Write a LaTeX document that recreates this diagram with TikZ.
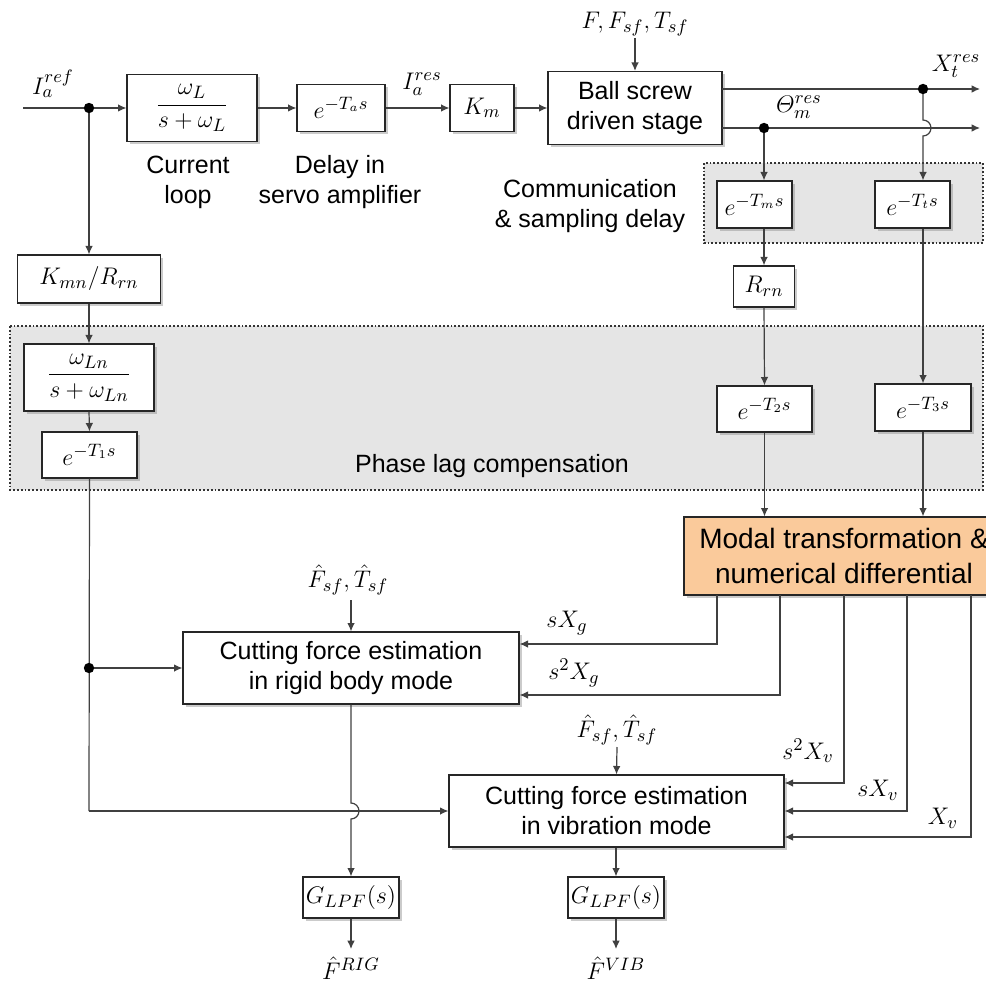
\documentclass[tikz,border=0pt]{standalone}
\usepackage{amsmath}
\usepackage[no-math]{fontspec}
\setmainfont{Liberation Sans}
\usetikzlibrary{arrows.meta,shadows,calc}

\definecolor{modalfill}{RGB}{250,202,155}
\definecolor{regionfill}{RGB}{229,229,229}

\begin{document}
\begin{tikzpicture}[x=0.5pt,y=-0.5pt,
  every node/.style={font=\fontsize{12.5}{15}\selectfont},
  blk/.style={draw=black!85, line width=0.6pt, fill=white, inner sep=0pt,
    align=center, drop shadow={shadow xshift=1.3pt, shadow yshift=-1.3pt, fill=black!45, opacity=0.45}},
  region/.style={draw=black!80, fill=regionfill, line width=0.9pt, densely dotted},
  ln/.style={draw=black!75, line width=0.6pt},
  arr/.style={ln, -{Latex[length=4.2pt,width=3.8pt]}},
  jdot/.style={fill=black},
  lbl/.style={inner sep=1pt, align=center}]
\useasboundingbox (0,0) rectangle (985,988);

% shaded groups
\path[region] (704,163) rectangle (983,243);
\path[region] (10,326) rectangle (983,490);

% ---- forward path ----
\node[blk, minimum width=65pt, minimum height=33.5pt] (cl) at (192,108) {$\displaystyle\frac{\omega_L}{s+\omega_L}$};
\node[blk, minimum width=44pt, minimum height=23.5pt] (da) at (341,108) {$e^{-T_a s}$};
\node[blk, minimum width=32pt, minimum height=23.5pt] (km) at (482,108) {$K_m$};
\node[blk, minimum width=87pt, minimum height=36.5pt] (bs) at (635,108) {Ball screw\\driven stage};

\node[lbl] (lref) at (53,84) {$I_a^{ref}$};
\node[lbl] (lres) at (422,84) {$I_a^{res}$};
\node[lbl] (ldist) at (635,24) {$F, F_{sf}, T_{sf}$};
\node[lbl] (lxt) at (956,66) {$X_t^{res}$};
\node[lbl] (lth) at (799,107) {$\varTheta_m^{res}$};

\node[lbl] (tcl) at (188,182) {Current\\loop};
\node[lbl] (tda) at (340,182) {Delay in\\servo amplifier};
\node[lbl] (tcom) at (590,206) {Communication\\\& sampling delay};
\node[lbl] (tpl) at (492,466) {Phase lag compensation};

% ---- delay / sensor blocks ----
\node[blk, minimum width=37.5pt, minimum height=23.5pt] (tm) at (754.5,204.5) {$e^{-T_m s}$};
\node[blk, minimum width=37.5pt, minimum height=23.5pt] (tt) at (912.5,204.5) {$e^{-T_t s}$};
\node[blk, minimum width=30.5pt, minimum height=20.5pt] (rrn) at (764,286.5) {$R_{rn}$};
\node[blk, minimum width=47.5pt, minimum height=23pt] (t2) at (764.5,409) {$e^{-T_2 s}$};
\node[blk, minimum width=48pt, minimum height=23.5pt] (t3) at (923,407.5) {$e^{-T_3 s}$};

\node[blk, minimum width=71.5pt, minimum height=24pt] (kmn) at (89,279) {$K_{mn}/R_{rn}$};
\node[blk, minimum width=65pt, minimum height=33.5pt] (wln) at (89,377.5) {$\displaystyle\frac{\omega_{Ln}}{s+\omega_{Ln}}$};
\node[blk, minimum width=47.5pt, minimum height=23pt] (t1) at (89.5,455) {$e^{-T_1 s}$};

\node[blk, fill=modalfill, minimum width=160pt, minimum height=39pt,
  font=\fontsize{14}{17.5}\selectfont] (modal) at (844,556) {Modal transformation \&\\numerical differential};

% ---- estimators ----
\node[blk, minimum width=168pt, minimum height=36pt] (rig) at (351,668) {Cutting force estimation\\in rigid body mode};
\node[blk, minimum width=167.5pt, minimum height=36pt] (vib) at (616.5,811) {Cutting force estimation\\in vibration mode};
\node[blk, minimum width=48pt, minimum height=20.5pt] (g1) at (351,897.5) {$G_{LPF}(s)$};
\node[blk, minimum width=48pt, minimum height=20.5pt] (g2) at (616,897.5) {$G_{LPF}(s)$};

\node[lbl] (lfr) at (348,580) {$\hat{F}_{sf},\hat{T}_{sf}$};
\node[lbl] (lfv) at (617,730) {$\hat{F}_{sf},\hat{T}_{sf}$};
\node[lbl] (lsxg) at (567,623) {$sX_g$};
\node[lbl] (ls2xg) at (574,673) {$s^2X_g$};
\node[lbl] (ls2xv) at (808,751) {$s^2X_v$};
\node[lbl] (lsxv) at (878,790) {$sX_v$};
\node[lbl] (lxv) at (943,818) {$X_v$};
\node[lbl] (lrig) at (351,968) {$\hat{F}^{RIG}$};
\node[lbl] (lvib) at (616,968) {$\hat{F}^{VIB}$};

% ---- coordinates for free ends and junctions ----
\coordinate (in) at (23,108);
\coordinate (j1) at (89,108);
\coordinate (j2) at (89,668);
\coordinate (j3) at (89,811);
\coordinate (dtop) at (635,38);
\coordinate (bsu) at (722,89);
\coordinate (bsl) at (722,128);
\coordinate (xd) at (923,89);
\coordinate (thd) at (764,128);
\coordinate (xend) at (980,89);
\coordinate (thend) at (980,128);
\coordinate (frtop) at (351,600);
\coordinate (fvtop) at (617,747);
\coordinate (m1) at (717,595);
\coordinate (m2) at (780,595);
\coordinate (m3) at (844,595);
\coordinate (m4) at (907,595);
\coordinate (m5) at (971,595);
\coordinate (orig) at (351,949);
\coordinate (ovib) at (616,949);

% ---- connectors: top row ----
\draw[ln] (in) -- (j1);
\draw[arr] (j1) -- (cl.west);
\draw[arr] (cl.east) -- (da.west);
\draw[arr] (da.east) -- (km.west);
\draw[arr] (km.east) -- (bs.west);
\draw[arr] (dtop) -- (bs.north);
\draw[arr] (bsu) -- (xend);
\draw[arr] (bsl) -- (thend);

% sensor branches
\draw[arr] (thd) -- (thd |- tm.north);
\draw[arr] (xd) -- ($(xd)+(0,31)$) arc[start angle=90, end angle=-90, radius=4pt] -- (xd |- tt.north);
\draw[arr] (rrn.north |- tm.south) -- (rrn.north);
\draw[arr] (rrn.south) -- (t2.north);
\draw[arr] (t3.north |- tt.south) -- (t3.north);
\draw[arr] (t2.south) -- (t2.south |- modal.north);
\draw[arr] (t3.south) -- (t3.south |- modal.north);

% current reference branch
\draw[arr] (j1) -- (kmn.north);
\draw[arr] (kmn.south) -- (wln.north);
\draw[arr] (wln.south) -- (t1.north);
\draw[ln] (t1.south) -- (j3);
\draw[arr] (j2) -- (rig.west);
\draw[arr] (j3) -- (vib.west);

% disturbance estimates
\draw[arr] (frtop) -- (rig.north);
\draw[arr] (fvtop) -- (vib.north);

% modal outputs
\draw[arr] (m1) |- ($(rig.east)+(0,-24)$);
\draw[arr] (m2) |- ($(rig.east)+(0,27)$);
\draw[arr] (m3) |- ($(vib.east)+(0,-28)$);
\draw[arr] (m4) |- (vib.east);
\draw[arr] (m5) |- ($(vib.east)+(0,26)$);

% outputs
\draw[arr] (rig.south) -- (351,803) arc[start angle=90, end angle=-90, radius=4pt] -- (g1.north);
\draw[arr] (vib.south -| g2.north) -- (g2.north);
\draw[arr] (g1.south) -- (orig);
\draw[arr] (g2.south) -- (ovib);

% junction dots
\fill[jdot] (j1) circle (2.6pt);
\fill[jdot] (j2) circle (2.6pt);
\fill[jdot] (xd) circle (2.6pt);
\fill[jdot] (thd) circle (2.6pt);
\end{tikzpicture}
\end{document}
